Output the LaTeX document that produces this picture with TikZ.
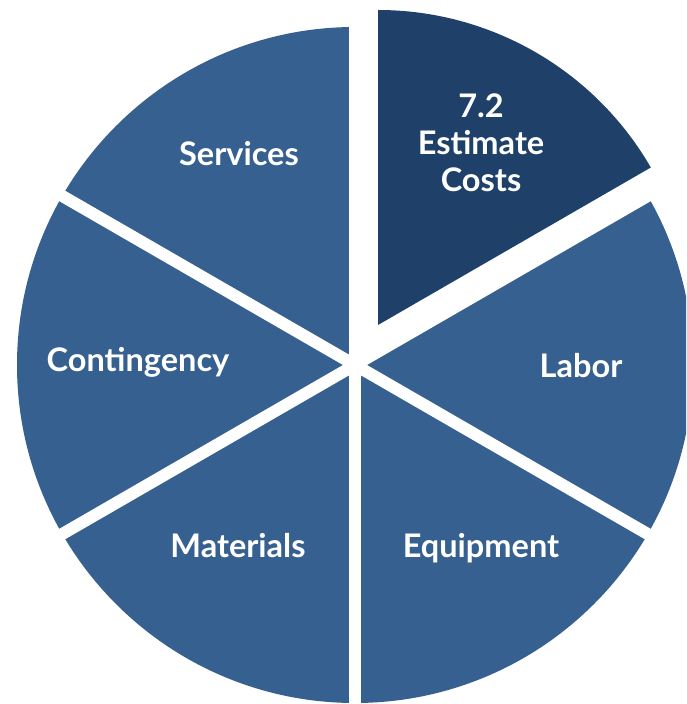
\documentclass[tikz,border=0pt]{standalone}
\usepackage{fontspec}
\setmainfont{Lato}
\usetikzlibrary{calc}
\definecolor{sliceblue}{RGB}{54,96,143}
\definecolor{darkblue}{RGB}{31,64,104}
\tikzset{
  slicelabel/.style={text=white, font=\fontsize{32.5}{37}\selectfont\bfseries, align=center},
  gapline/.style={draw=white, line width=12pt}
}

\begin{document}
\begin{tikzpicture}[x=1pt,y=1pt]
  \useasboundingbox (0,0) rectangle (686,704);
  \clip (0,0) rectangle (686,704);
  \coordinate (Centre) at (355,339);

  % the pie and its gaps
  \fill[sliceblue] (Centre) circle (338);
  \foreach \a in {30,90,150}
    \draw[gapline] ($(Centre)+(\a:350)$) -- ($(Centre)+(\a+180:350)$);

  % pulled-out slice
  \fill[white] (Centre) -- ++(30:350) arc (30:90:350) -- cycle;
  \coordinate (Apex) at (378,379);
  \fill[darkblue] (Apex) -- ++(30:315) arc (30:90:315) -- cycle;

  \node[slicelabel] (Estimate) at (481,561) {7.2\\Estimate\\Costs};
  \node[slicelabel] (Services) at (239,550) {Services};
  \node[slicelabel] (Contingency) at (138,342) {Contingency};
  \node[slicelabel] (Labor) at (581,338) {Labor};
  \node[slicelabel] (Materials) at (238,158) {Materials};
  \node[slicelabel] (Equipment) at (481,156) {Equipment};
\end{tikzpicture}
\end{document}
